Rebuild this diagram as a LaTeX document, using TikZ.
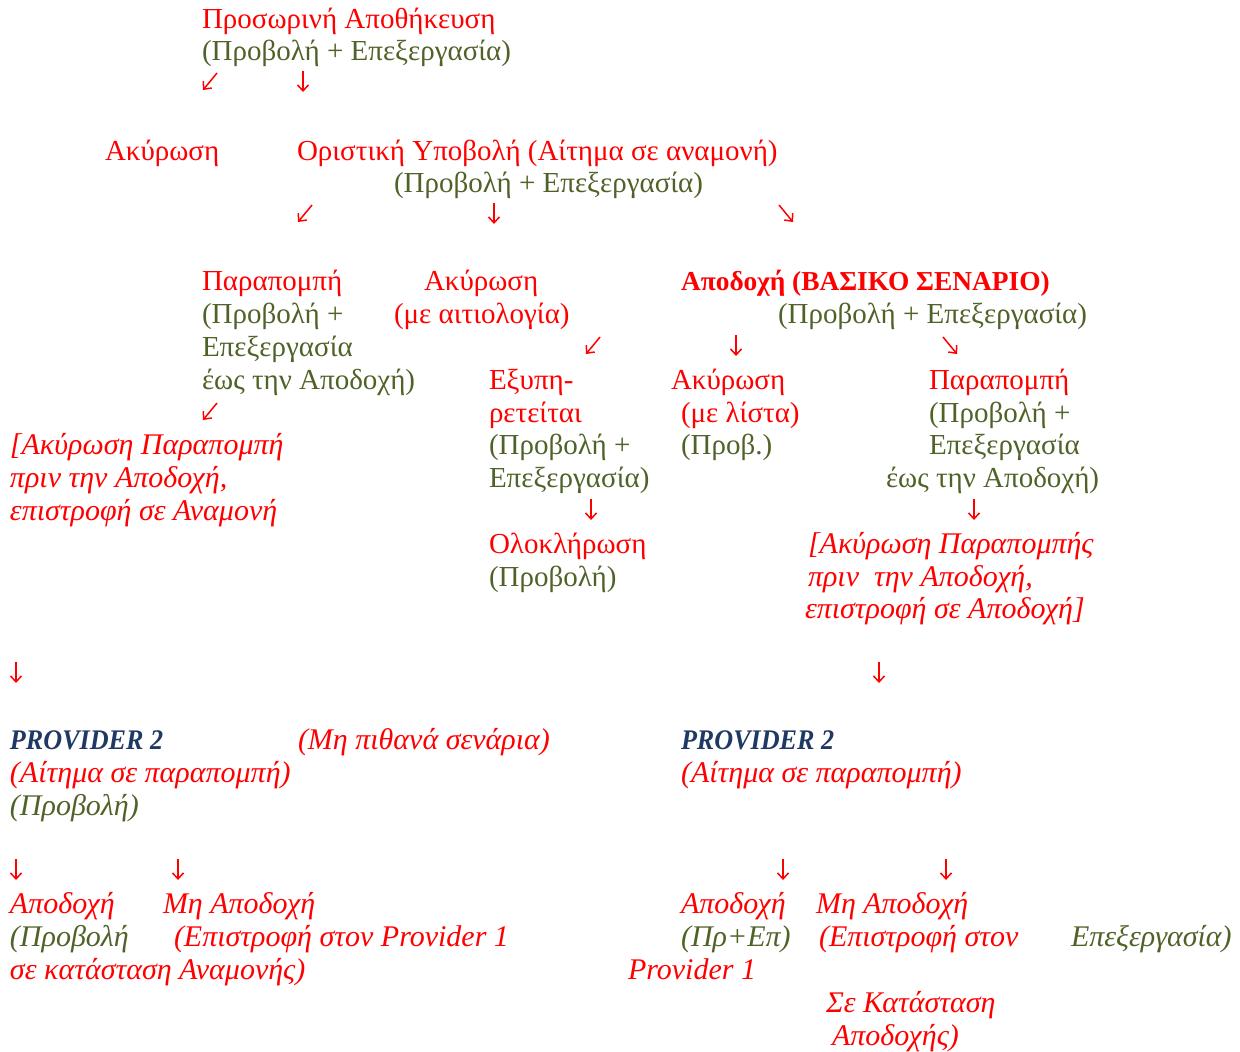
\documentclass[tikz,border=0pt]{standalone}
\usepackage{fontspec}
\setmainfont{Liberation Serif}
\usetikzlibrary{arrows.meta}
\definecolor{rd}{RGB}{255,0,0}
\definecolor{ol}{RGB}{79,98,40}
\definecolor{bl}{RGB}{31,56,100}
\newcommand\fs{\fontsize{14.5}{16}\selectfont}
\newcommand\fsi{\fontsize{15}{16}\selectfont}
\newcommand\fsb{\fontsize{13.7}{16}\selectfont}
\newcommand\fsbi{\fontsize{14.2}{16}\selectfont}
\newcommand\arrD[3]{\coordinate (#1s) at (#2+6,#3-11); \coordinate (#1e) at (#2+6,#3+10); \draw[arr] (#1s) -- (#1e);}
\newcommand\arrL[3]{\coordinate (#1s) at (#2+15,#3-9); \coordinate (#1e) at (#2+1,#3+8); \draw[arr] (#1s) -- (#1e);}
\newcommand\arrR[3]{\coordinate (#1s) at (#2+1,#3-9); \coordinate (#1e) at (#2+15,#3+8); \draw[arr] (#1s) -- (#1e);}
\newcommand\squeeze[1]{\scalebox{0.92}[1]{#1}}
\begin{document}
\begin{tikzpicture}[x=0.5pt,y=-0.5pt,
  t/.style={anchor=base west,inner sep=0pt,outer sep=0pt,font=\fs},
  R/.style={t,text=rd}, O/.style={t,text=ol},
  RI/.style={R,font=\fsi\itshape}, OI/.style={O,font=\fsi\itshape},
  RB/.style={R,font=\fsb\bfseries},
  BB/.style={t,text=bl,font=\fsbi\bfseries\itshape},
  arr/.style={draw=rd,line width=0.75pt,-{Straight Barb[length=3pt,width=5.5pt]}}]
\useasboundingbox (0,0) rectangle (1240,1051);
% top
\node[R] (a1) at (202,28) {Προσωρινή Αποθήκευση};
\node[O] (a2) at (202,60) {(Προβολή + Επεξεργασία)};
\arrL{x1}{202}{82}
\arrD{x2}{297}{82}
\node[R] (b1) at (105,160) {Ακύρωση};
\node[R] (b2) at (297,160) {Οριστική Υποβολή (Αίτημα σε αναμονή)};
\node[O] (b3) at (394,192) {(Προβολή + Επεξεργασία)};
\arrL{x3}{297}{214}
\arrD{x4}{488}{214}
\arrR{x5}{778}{214}
% third level
\node[R] (c1) at (202,290) {Παραπομπή};
\node[O] (c2) at (202,323) {(Προβολή +};
\node[O] (c3) at (202,356) {Επεξεργασία};
\node[O] (c4) at (202,389) {έως την Αποδοχή)};
\arrL{x6}{202}{412}
\node[RI] (c5) at (10,454) {[Ακύρωση Παραπομπή};
\node[RI] (c6) at (10,487) {πριν την Αποδοχή,};
\node[RI] (c7) at (10,520) {επιστροφή σε Αναμονή};
\node[R] (d1) at (424,290) {Ακύρωση};
\node[R] (d2) at (394,323) {(με αιτιολογία)};
\arrL{x7}{585}{346}
\node[R] (d3) at (489,389) {Εξυπη-};
\node[R] (d4) at (489,422) {ρετείται};
\node[O] (d5) at (489,454) {(Προβολή +};
\node[O] (d6) at (489,487) {Επεξεργασία)};
\arrD{x8}{585}{510}
\node[R] (d7) at (489,553) {Ολοκλήρωση};
\node[O] (d8) at (489,586) {(Προβολή)};
\node[RB] (e1) at (681,290) {Αποδοχή (ΒΑΣΙΚΟ ΣΕΝΑΡΙΟ)};
\node[O] (e2) at (778,323) {(Προβολή + Επεξεργασία)};
\arrD{x9}{730}{346}
\arrR{x10}{942}{346}
\node[R] (f1) at (671,389) {Ακύρωση};
\node[R] (f2) at (681,422) {(με λίστα)};
\node[O] (f3) at (681,454) {(Προβ.)};
\node[R] (g1) at (929,389) {Παραπομπή};
\node[O] (g2) at (929,422) {(Προβολή +};
\node[O] (g3) at (929,454) {Επεξεργασία};
\node[O] (g4) at (886,487) {έως την Αποδοχή)};
\arrD{x11}{968}{510}
\node[RI] (g5) at (808,553) {[Ακύρωση Παραπομπής};
\node[RI] (g6) at (808,586) {πριν\ \ την Αποδοχή,};
\node[RI] (g7) at (805,618) {επιστροφή σε Αποδοχή]};
% providers
\arrD{x12}{10}{673}
\arrD{x13}{873}{673}
\node[BB] (h1) at (10,749) {\squeeze{PROVIDER 2}};
\node[RI] (h2) at (298,749) {(Μη πιθανά σενάρια)};
\node[RI] (h3) at (10,782) {(Αίτημα σε παραπομπή)};
\node[OI] (h4) at (10,815) {(Προβολή)};
\arrD{x14}{10}{870}
\arrD{x15}{172}{870}
\node[RI] (h5) at (10,913) {Αποδοχή};
\node[OI] (h6) at (10,946) {(Προβολή};
\node[RI] (h7) at (10,979) {σε κατάσταση Αναμονής)};
\node[RI] (h8) at (163,913) {Μη Αποδοχή};
\node[RI] (h9) at (174,946) {(Επιστροφή στον Provider 1};
\node[BB] (k1) at (681,749) {\squeeze{PROVIDER 2}};
\node[RI] (k2) at (681,782) {(Αίτημα σε παραπομπή)};
\arrD{x16}{777}{870}
\arrD{x17}{940}{870}
\node[RI] (k3) at (681,913) {Αποδοχή};
\node[OI] (k4) at (681,946) {(Πρ+Επ)};
\node[RI] (k5) at (628,979) {Provider 1};
\node[RI] (k6) at (816,913) {Μη Αποδοχή};
\node[RI] (k7) at (819,946) {(Επιστροφή στον};
\node[OI] (k8) at (1071,946) {Επεξεργασία)};
\node[RI] (k9) at (826,1012) {Σε Κατάσταση};
\node[RI] (k10) at (832,1045) {Αποδοχής)};
\end{tikzpicture}
\end{document}
